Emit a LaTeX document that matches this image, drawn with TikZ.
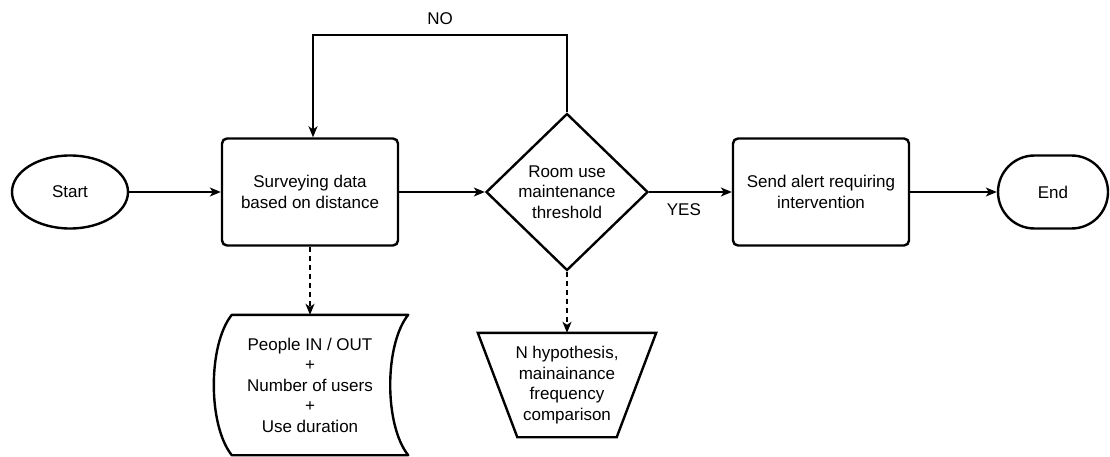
\documentclass[tikz,border=0pt]{standalone}
\usepackage{fontspec}
\setmainfont{Liberation Sans}
\usepackage{tikz}
\usetikzlibrary{arrows.meta,positioning,calc,shapes.geometric,shapes.misc}

\tikzset{
  flowtext/.style={font=\fontsize{17}{20.5}\selectfont, align=center, inner sep=0pt},
  terminal/.style={flowtext, draw, line width=2.4pt},
  procbox/.style={flowtext, draw, line width=2.4pt, rounded corners=5pt, minimum width=176pt, minimum height=107pt},
  flowarrow/.style={line width=1.4pt, -{Stealth[length=11pt,width=9pt,inset=3pt]}},
  dasharrow/.style={flowarrow, dashed, dash pattern=on 5pt off 4pt}
}

\begin{document}
\begin{tikzpicture}[x=1pt,y=-1pt]
  \useasboundingbox (0,0) rectangle (1110,457); % 画像全体の大きさ
  \node[terminal, ellipse, minimum width=116pt, minimum height=73pt] (start) at (70,192) {Start}; % 開始
  \node[procbox] (survey) at (310,192) {Surveying data\\based on distance}; % データ収集
  \node[flowtext, diamond, draw, line width=2.4pt, minimum width=162pt, minimum height=157pt] (check) at (567,192) {Room use\\maintenance\\threshold}; % 判定
  \node[procbox] (alert) at (821,192) {Send alert requiring\\intervention}; % 警報
  \node[terminal, rounded rectangle, minimum width=110pt, minimum height=73pt] (stop) at (1053,192) {End}; % 終了
  \node[flowtext, minimum width=196pt, minimum height=140pt] (data) at (310,385) {People IN / OUT\\+\\Number of users\\+\\Use duration}; % 蓄積データ
  \draw[line width=2.4pt, line join=round] ([xshift=20pt]data.north west) -- (data.north east)
    .. controls ([xshift=-24pt,yshift=-30pt]data.north east) and ([xshift=-24pt,yshift=30pt]data.south east) .. (data.south east)
    -- ([xshift=20pt]data.south west)
    .. controls ([xshift=-4pt,yshift=30pt]data.south west) and ([xshift=-4pt,yshift=-30pt]data.north west) .. cycle; % 蓄積データの枠
  \node[flowtext, minimum width=178pt, minimum height=104pt] (cmp) at (567,385) {N hypothesis,\\mainainance\\frequency\\comparison}; % 比較
  \draw[line width=2.4pt, line join=miter] (cmp.north west) -- (cmp.north east) -- ([xshift=-39.5pt]cmp.south east) -- ([xshift=39.5pt]cmp.south west) -- cycle; % 台形の枠
  \coordinate (loopR) at (567,35); % ループ右上
  \coordinate (loopL) at (313,35); % ループ左上
  \draw[flowarrow] (start) -- (survey); % 開始→収集
  \draw[flowarrow] (survey) -- (check); % 収集→判定
  \draw[flowarrow] (check) -- node[flowtext, below=11pt, pos=0.42] (yes) {YES} (alert); % YES
  \draw[flowarrow] (alert) -- (stop); % 警報→終了
  \draw[flowarrow] (check.north) -- (loopR) -- node[flowtext, above=10pt] (no) {NO} (loopL) -- (loopL |- survey.north); % NO
  \draw[dasharrow] (survey) -- (data); % 収集→データ
  \draw[dasharrow] (check) -- (cmp); % 判定→比較
\end{tikzpicture}
\end{document}
